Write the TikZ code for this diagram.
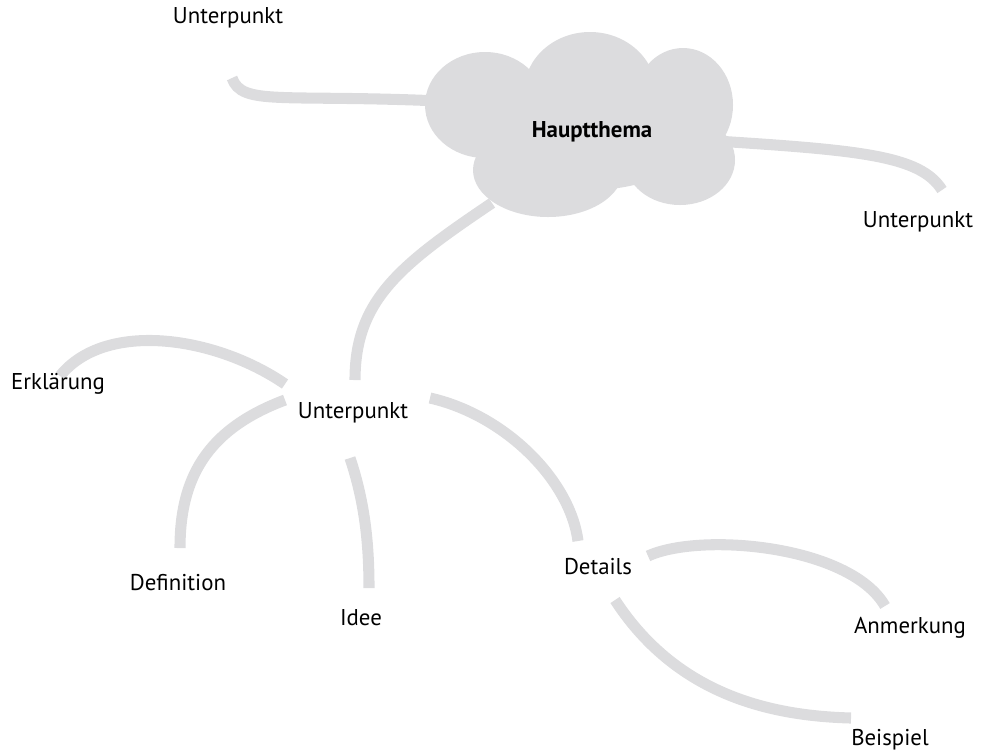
\documentclass[tikz,border=0pt]{standalone}
\usepackage{fontspec}
\setmainfont{PT Sans}
\usetikzlibrary{positioning}
\definecolor{cloudgray}{HTML}{DCDCDE}

\begin{document}
\begin{tikzpicture}[x=0.02cm,y=-0.02cm,
  every node/.style={inner sep=1pt,font=\fontsize{13}{15}\selectfont},
  branch/.style={draw=cloudgray,line width=6.3pt,line cap=butt}]
  \useasboundingbox (0,0) rectangle (996,755);

  % Ends of the branches
  \coordinate (c1) at (232,78);
  \coordinate (c2) at (440,101);
  \coordinate (c3) at (700,140);
  \coordinate (c4) at (942,190);
  \coordinate (c5) at (492,203);
  \coordinate (c6) at (355,380);
  \coordinate (e1) at (285,384);
  \coordinate (e2) at (60,376);
  \coordinate (d1) at (285,400);
  \coordinate (d2) at (180,548);
  \coordinate (i1) at (350,458);
  \coordinate (i2) at (369,588);
  \coordinate (t1) at (430,398);
  \coordinate (t2) at (578,541);
  \coordinate (a1) at (648,556);
  \coordinate (a2) at (885,606);
  \coordinate (b1) at (615,600);
  \coordinate (b2) at (851,718);

  % Branches
  \draw[branch] (c1) .. controls (242,106) and (280,94) .. (c2);
  \draw[branch] (c3) .. controls (860,150) and (920,155) .. (c4);
  \draw[branch] (c5) .. controls (400,265) and (355,300) .. (c6);
  \draw[branch] (e1) .. controls (215,336) and (105,320) .. (e2);
  \draw[branch] (d1) .. controls (205,430) and (180,480) .. (d2);
  \draw[branch] (i1) .. controls (364,500) and (369,540) .. (i2);
  \draw[branch] (t1) .. controls (505,415) and (570,480) .. (t2);
  \draw[branch] (a1) .. controls (700,532) and (850,545) .. (a2);
  \draw[branch] (b1) .. controls (680,700) and (780,716) .. (b2);

  % Cloud from overlapping lobes
  \foreach \cx/\cy/\rx/\ry in {485/105/60/53, 590/92/66/60, 683/105/50/57,
      680/160/55/45, 548/170/75/47, 590/130/110/60}
    \fill[cloudgray] (\cx,\cy) ellipse [x radius=\rx, y radius=\ry];

  % Labels
  \node (main) at (592,132) {\bfseries Hauptthema};
  \node (sub1) at (228,18) {Unterpunkt};
  \node (sub2) at (918,222) {Unterpunkt};
  \node (sub3) at (353,413) {Unterpunkt};
  \node (expl) at (58,384) {Erklärung};
  \node (defi) at (178,583) {Definition};
  \node (idea) at (361,618) {Idee};
  \node (deta) at (598,567) {Details};
  \node (note) at (910,628) {Anmerkung};
  \node (exam) at (890,740) {Beispiel};
\end{tikzpicture}
\end{document}
